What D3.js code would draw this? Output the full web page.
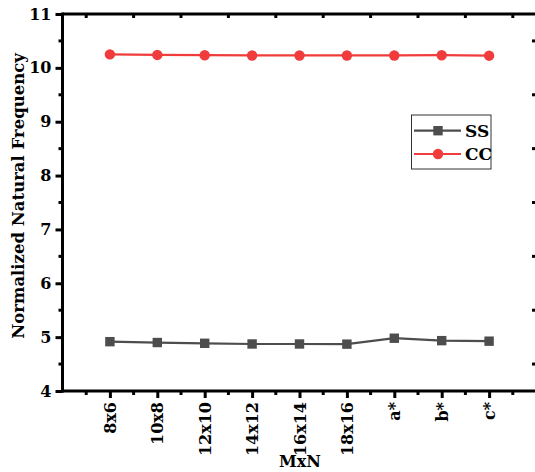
<!DOCTYPE html>
<html><head><meta charset="utf-8">
<script src="https://cdn.jsdelivr.net/npm/d3@7"></script>
<style>body{margin:0;background:#fff}svg{display:block}</style>
</head><body>
<script>
const categories = ["8x6","10x8","12x10","14x12","16x14","18x16","a*","b*","c*"];
const ssValues = [4.916, 4.90, 4.886, 4.873, 4.873, 4.87, 4.98, 4.935, 4.925];
const ccValues = [10.25, 10.24, 10.235, 10.23, 10.23, 10.23, 10.23, 10.235, 10.226];
const yTicks = [4,5,6,7,8,9,10,11];
const seriesNames = ["SS","CC"];

const W = 535, H = 472;
const font = "'DejaVu Serif', serif";
const svg = d3.select("body").append("svg").attr("width", W).attr("height", H);

const x = d3.scaleLinear().domain([-1, 10]).range([62.5, 583.9]);
const y = d3.scaleLinear().domain([4, 11]).range([391, 14]);

const minorX = d3.range(-0.5, 10, 1);
const minorY = d3.range(4.5, 11, 1);

const line = d3.line().x((d,i)=>x(i)).y(d=>y(d));
const ssColor = "#4d4d4d", ccColor = "#f03c3c";
svg.append("path").datum(ssValues).attr("d", line).attr("fill","none").attr("stroke", ssColor).attr("stroke-width", 2.2);
svg.append("path").datum(ccValues).attr("d", line).attr("fill","none").attr("stroke", ccColor).attr("stroke-width", 2.2);
svg.selectAll(".ssm").data(ssValues).enter().append("rect")
  .attr("x",(d,i)=>x(i)-4.7).attr("y",d=>y(d)-4.7).attr("width",9.4).attr("height",9.4).attr("fill",ssColor);
svg.selectAll(".ccm").data(ccValues).enter().append("circle")
  .attr("cx",(d,i)=>x(i)).attr("cy",d=>y(d)).attr("r",5.2).attr("fill",ccColor);

const g = svg.append("g");
const yAxis = d3.axisLeft(y).tickValues(yTicks).tickFormat(d3.format("d")).tickSize(7).tickPadding(4);
const ya = g.append("g").attr("transform",`translate(${x(-1)},0)`).call(yAxis);
ya.select(".domain").remove();
ya.selectAll(".tick line").attr("stroke","#000").attr("stroke-width",3);
ya.selectAll("text").attr("font-family",font).attr("font-weight","bold").attr("font-size",16).attr("fill","#000");
g.selectAll(".ymin").data(minorY).enter().append("line")
  .attr("x1",x(-1)-4).attr("x2",x(-1)).attr("y1",d=>y(d)).attr("y2",d=>y(d)).attr("stroke","#000").attr("stroke-width",3);
const xAxis = d3.axisBottom(x).tickValues(d3.range(categories.length)).tickFormat(i=>categories[i]).tickSize(7).tickPadding(5);
const xa = g.append("g").attr("transform",`translate(0,${y(4)})`).call(xAxis);
xa.select(".domain").remove();
xa.selectAll(".tick line").attr("stroke","#000").attr("stroke-width",3);
xa.selectAll("text").attr("font-family",font).attr("font-weight","bold").attr("font-size",16).attr("fill","#000")
  .attr("transform","rotate(-90)").attr("text-anchor","end").attr("dy","0.35em").attr("x",-11).attr("y",0);
g.selectAll(".xmin").data(minorX).enter().append("line")
  .attr("x1",d=>x(d)).attr("x2",d=>x(d)).attr("y1",y(4)).attr("y2",y(4)+4).attr("stroke","#000").attr("stroke-width",3);
g.selectAll(".tmin").data(minorX).enter().append("line")
  .attr("x1",d=>x(d)).attr("x2",d=>x(d)).attr("y1",y(11)).attr("y2",y(11)+4).attr("stroke","#000").attr("stroke-width",3);
g.selectAll(".rmin").data(minorY).enter().append("line")
  .attr("x1",532).attr("x2",535).attr("y1",d=>y(d)).attr("y2",d=>y(d)).attr("stroke","#000").attr("stroke-width",3);
g.append("line").attr("x1",x(-1)).attr("x2",W).attr("y1",y(11)).attr("y2",y(11)).attr("stroke","#000").attr("stroke-width",3);
g.append("line").attr("x1",x(-1)-1.5).attr("x2",W).attr("y1",y(4)).attr("y2",y(4)).attr("stroke","#000").attr("stroke-width",3);
g.append("line").attr("x1",x(-1)).attr("x2",x(-1)).attr("y1",y(11)-1.5).attr("y2",y(4)+1.5).attr("stroke","#000").attr("stroke-width",3);

svg.append("text").attr("transform",`translate(24,196) rotate(-90)`).attr("text-anchor","middle")
  .attr("font-family",font).attr("font-weight","bold").attr("font-size",16.5).text("Normalized Natural Frequency");
svg.append("text").attr("x",300).attr("y",467).attr("text-anchor","middle")
  .attr("font-family",font).attr("font-weight","bold").attr("font-size",16).text("MxN");

const lg = svg.append("g");
lg.append("rect").attr("x",411.5).attr("y",115).attr("width",79.5).attr("height",54).attr("fill","#fff").attr("stroke","#333").attr("stroke-width",1);
const ly = [130.7, 154];
const cols = [ssColor, ccColor];
seriesNames.forEach((n,i)=>{
  lg.append("line").attr("x1",414).attr("x2",461).attr("y1",ly[i]).attr("y2",ly[i]).attr("stroke",cols[i]).attr("stroke-width",2.2);
  if(i===0) lg.append("rect").attr("x",438-4.7).attr("y",ly[i]-4.7).attr("width",9.4).attr("height",9.4).attr("fill",cols[i]);
  else lg.append("circle").attr("cx",438).attr("cy",ly[i]).attr("r",5.2).attr("fill",cols[i]);
  lg.append("text").attr("x",465).attr("y",ly[i]).attr("dy","0.36em").attr("font-family",font).attr("font-weight","bold").attr("font-size",17).text(n);
});
</script>
</body></html>
